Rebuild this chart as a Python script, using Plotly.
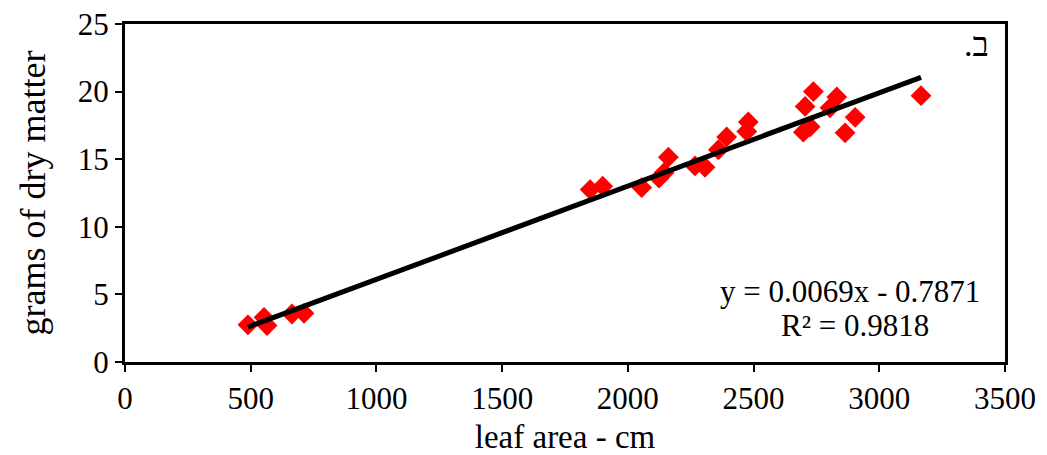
import plotly.graph_objects as go

# Data
leaf_area = [489, 553, 565, 664, 712,
             1850, 1900, 2055, 2124, 2144, 2161, 2267, 2307, 2360, 2393,
             2473, 2479, 2698, 2705, 2725, 2738, 2804, 2831, 2864, 2904, 3166]
dry_matter = [2.75, 3.3, 2.7, 3.55, 3.6,
              12.75, 13.0, 12.9, 13.6, 14.0, 15.15, 14.5, 14.4, 15.7, 16.65,
              17.05, 17.75, 17.0, 18.9, 17.4, 20.0, 18.8, 19.6, 16.95, 18.1, 19.7]

slope = 0.0069
intercept = -0.7871
r_squared = 0.9818

x_ticks = [0, 500, 1000, 1500, 2000, 2500, 3000, 3500]
y_ticks = [0, 5, 10, 15, 20, 25]

trend_x = [min(leaf_area), max(leaf_area)]
trend_y = [slope * v + intercept for v in trend_x]

FONT = "Liberation Serif"

fig = go.Figure()
fig.add_trace(go.Scatter(
    x=leaf_area, y=dry_matter, mode="markers",
    marker=dict(symbol="diamond", size=16, color="#FF0000", line=dict(width=0)),
    showlegend=False, hoverinfo="x+y"))
fig.add_trace(go.Scatter(
    x=trend_x, y=trend_y, mode="lines",
    line=dict(color="black", width=5),
    showlegend=False, hoverinfo="skip"))

axis_common = dict(
    showline=True, linecolor="black", linewidth=3, mirror=True,
    ticks="outside", ticklen=7, tickwidth=2, tickcolor="black",
    showgrid=False, zeroline=False, automargin=False,
    tickfont=dict(family=FONT, size=31, color="black"),
)

fig.update_xaxes(range=[0, 3500], tickvals=x_ticks,
                 title=dict(text="leaf area - cm", font=dict(family=FONT, size=33, color="black"), standoff=10),
                 **axis_common)
fig.update_yaxes(range=[0, 25], tickvals=y_ticks,
                 title=dict(text="grams of dry matter", font=dict(family=FONT, size=36, color="black"), standoff=22),
                 **axis_common)

fig.add_annotation(
    x=0.824, y=0.210, xref="paper", yref="paper", xanchor="center", yanchor="middle",
    text=f"y = {slope}x - {abs(intercept)}",
    showarrow=False, font=dict(family=FONT, size=31, color="black"))
fig.add_annotation(
    x=0.830, y=0.109, xref="paper", yref="paper", xanchor="center", yanchor="middle",
    text=f"R² = {r_squared}",
    showarrow=False, font=dict(family=FONT, size=31, color="black"))
fig.add_annotation(
    x=0.968, y=0.938, xref="paper", yref="paper", xanchor="center", yanchor="middle",
    text="ב.\u200f", showarrow=False,
    font=dict(family=FONT, size=34, color="black"))

fig.update_layout(
    width=1047, height=455,
    margin=dict(l=125, r=42, t=24, b=93),
    plot_bgcolor="white", paper_bgcolor="white",
)

fig.write_html("out.html")
